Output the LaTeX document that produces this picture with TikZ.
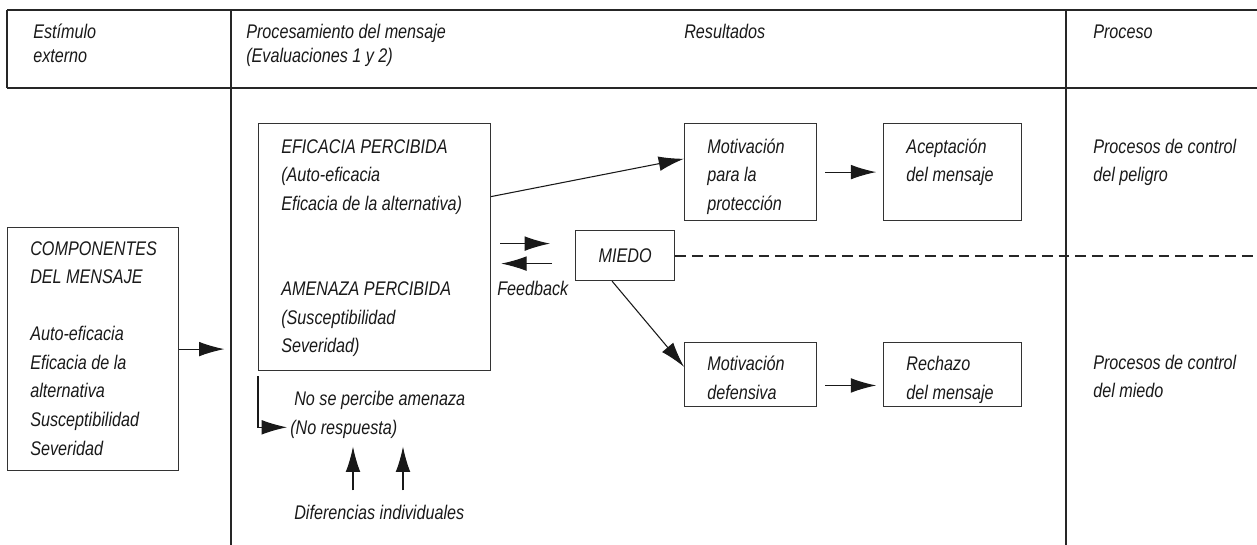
\documentclass[tikz,border=0pt]{standalone}
\usepackage{fontspec}
\setmainfont{Liberation Sans}[FakeStretch=0.82]
\usepackage{tikz}
\usetikzlibrary{positioning,arrows.meta}

\newcommand{\alto}{\rule{0pt}{13.5pt}}

\begin{document}
\begin{tikzpicture}[x=0.75pt, y=-0.75pt,
    caja/.style={draw=black!80, line width=0.9pt, inner sep=0pt},
    texto/.style={font=\itshape\fontsize{14.8}{21.4}\selectfont, text=black!90, align=left, inner sep=0pt, anchor=north west},
    cabecera/.style={texto, font=\itshape\fontsize{14.8}{18}\selectfont},
    raya/.style={line width=1.9pt, black!85},
    trazos/.style={line width=1.5pt, black!85, dash pattern=on 8pt off 4.5pt},
    flecha/.style={-{Latex[length=19pt,width=11pt]}, line width=0.8pt, black!90}]
    \useasboundingbox (0,0) rectangle (1257,545);

    %Tabla
    \coordinate (lin1) at (231,10);
    \coordinate (borde) at (1257,10);
    \draw[raya] (7,10) -- (borde);
    \draw[raya] (7,88) -- (1257,88);
    \draw[raya] (7,10) -- (7,88);
    \draw[raya] (lin1) -- (231,545);
    \draw[raya] (1066,10) -- (1066,545);

    %Cabecera
    \node[cabecera] (estim)   at (33,20)   {\alto Estímulo\\externo};
    \node[cabecera] (proc)    at (246,20)  {\alto Procesamiento del mensaje\\(Evaluaciones 1 y 2)};
    \node[cabecera] (result)  at (684,20)  {\alto Resultados};
    \node[cabecera] (proceso) at (1093,20) {\alto Proceso};

    %Cajas
    \node[caja, minimum width=128.25pt, minimum height=182.25pt, anchor=north west] (comp) at (7,227) {};
    \node[caja, minimum width=174pt, minimum height=185.25pt, anchor=north west]    (perc) at (258,123) {};
    \node[caja, minimum width=99pt, minimum height=72.75pt, anchor=north west]      (motprot) at (684,123) {};
    \node[caja, minimum width=103.5pt, minimum height=72.75pt]                      (acept) [right=49.5pt of motprot] {};
    \node[caja, minimum width=99pt, minimum height=48pt]                            (motdef) [below=90.75pt of motprot] {};
    \node[caja, minimum width=103.5pt, minimum height=48pt]                         (rechazo) [right=49.5pt of motdef] {};
    \node[caja, minimum width=74.25pt, minimum height=37.5pt, anchor=north west, font=\itshape\fontsize{14.8}{21.4}\selectfont, text=black!90] (miedo) at (575,230) {MIEDO};

    %Textos
    \node[texto, below right=7.5pt and 17.25pt of comp.north west]    (comp-t)    {\alto COMPONENTES\\DEL MENSAJE\\[21.4pt]Auto-eficacia\\Eficacia de la\\alternativa\\Susceptibilidad\\Severidad};
    \node[texto, below right=9pt and 17.25pt of perc.north west]      (perc-t)    {\alto EFICACIA PERCIBIDA\\(Auto-eficacia\\Eficacia de la alternativa)\\[42.8pt]AMENAZA PERCIBIDA\\(Susceptibilidad\\Severidad)};
    \node[texto, below right=9pt and 17.25pt of motprot.north west]   (motprot-t) {\alto Motivación\\para la\\protección};
    \node[texto, below right=9pt and 17.25pt of acept.north west]     (acept-t)   {\alto Aceptación\\del mensaje};
    \node[texto, below right=7.5pt and 17.25pt of motdef.north west]  (motdef-t)  {\alto Motivación\\defensiva};
    \node[texto, below right=7.5pt and 17.25pt of rechazo.north west] (rechazo-t) {\alto Rechazo\\del mensaje};
    \node[texto]    (ctrlp)  at (1093,135) {\alto Procesos de control\\del peligro};
    \node[texto]    (ctrlm)  at (1093,351) {\alto Procesos de control\\del miedo};
    \node[texto]    (feed)   at (497,277)  {\alto Feedback};
    \node[texto]    (noper)  at (294,387)  {\alto No se percibe amenaza};
    \node[texto]    (noresp) at (290,416)  {\alto (No respuesta)};
    \node[texto]    (difer)  at (294,501)  {\alto Diferencias individuales};

    %Flechas
    \draw[flecha, shorten >=5pt] (comp.east) -- (comp.east -| lin1);
    \draw[flecha] ([yshift=37.9pt]perc.east) -- ([yshift=10pt]motprot.west);
    \draw[flecha, shorten <=6pt, shorten >=5.25pt] (motprot) -- (acept);
    \draw[flecha, shorten <=6pt, shorten >=5.25pt] ([yshift=-8pt]motdef.east) -- ([yshift=-8pt]rechazo.west);
    \draw[flecha, shorten <=6.75pt, shorten >=18.75pt] ([yshift=9pt]miedo.west -| perc.east) -- ([yshift=9pt]miedo.west);
    \draw[flecha, shorten <=17.25pt, shorten >=7.5pt] ([yshift=-6pt]miedo.west) -- ([yshift=-6pt]miedo.west -| perc.east);
    \draw[flecha] ([xshift=-9.75pt]miedo.south) -- ([yshift=6pt]motdef.west);
    \draw[trazos] (miedo.east) -- (miedo.east -| borde);
    \draw[flecha, shorten >=2.25pt] ([yshift=-3.75pt]perc.south west) |- (noresp.west);
    \draw[flecha, shorten <=8pt, shorten >=6pt] ([xshift=44.25pt]difer.north west) -- ([xshift=44.25pt]difer.north west |- noresp.south);
    \draw[flecha, shorten <=8pt, shorten >=6pt] ([xshift=81.75pt]difer.north west) -- ([xshift=81.75pt]difer.north west |- noresp.south);
\end{tikzpicture}
\end{document}
